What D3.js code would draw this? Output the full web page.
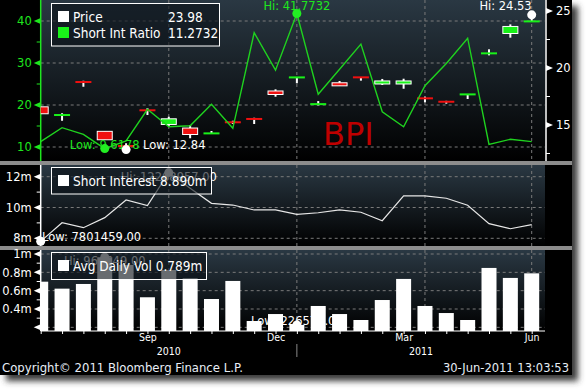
<!DOCTYPE html>
<html><head><meta charset="utf-8">
<script src="https://cdn.jsdelivr.net/npm/d3@7"></script>
<style>
body{margin:0;background:#fff}
svg{display:block}
text{font-family:"DejaVu Sans",sans-serif}
.cond{font-family:"DejaVu Sans Condensed","DejaVu Sans",sans-serif;font-stretch:condensed}
</style>
</head><body>
<svg id="c" width="587" height="391"></svg>
<script>
// ---------- data ----------
const dates = ["2010-07-15","2010-07-30","2010-08-13","2010-08-31","2010-09-15","2010-09-30",
  "2010-10-15","2010-10-29","2010-11-15","2010-11-30","2010-12-15","2010-12-31",
  "2011-01-14","2011-01-31","2011-02-15","2011-02-28","2011-03-15","2011-03-31",
  "2011-04-15","2011-04-29","2011-05-13","2011-05-31","2011-06-15","2011-06-30"];
const priceOpen  = [16.55,15.87,18.78,14.40,13.17,16.30,15.09,14.69,14.26,15.25,15.54,17.94,19.17,16.78,18.66,19.19,18.64,18.64,17.35,17.09,17.68,21.28,23.07,24.08];
const priceClose = [16.03,15.88,18.76,13.75,13.15,16.28,15.50,14.21,14.27,15.23,15.52,17.72,19.18,16.88,18.48,19.17,18.82,18.82,17.33,16.99,17.69,21.29,23.60,24.10];
const priceHigh  = [16.55,16.03,18.89,14.40,13.39,16.46,15.73,15.00,14.47,15.38,15.64,18.13,19.20,17.10,18.86,19.20,19.04,19.06,17.48,17.12,17.70,21.64,23.83,24.53];
const priceLow   = [16.03,15.38,18.36,13.75,12.84,15.88,14.91,13.83,14.25,15.09,15.09,17.48,18.66,16.72,18.45,18.89,18.51,18.18,16.99,16.87,17.28,21.11,22.66,24.05];
const shortIntRatio = [11.27,14.6,13.0,9.6178,11.43,18.98,14.83,15.07,20.17,14.45,37.2,28.3,41.7732,22.55,28.5,34.5,18.4,14.83,24.6,29.9,35.9,10.6,11.83,11.2732];
const shortInterestM = [7.801459,9.01,8.69,9.34,10.49,10.12,12.268957,11.25,10.27,10.16,9.84,9.84,9.56,9.66,9.84,9.69,9.14,10.75,10.75,10.6,10.15,8.95,8.62,8.89];
const avgDailyVolM = [0.698,0.622,0.673,0.964649,0.881,0.528,0.826,0.735,0.509,0.706,0.269,0.345,0.226571,0.433,0.345,0.28,0.498,0.728,0.433,0.356,0.28,0.848,0.739,0.789];

const ratioTicks = [10,20,30,40], ratioMinor = [15,25,35];
const priceTicks = [15,20,25], priceMinor = [12.5,17.5,22.5];
const siTicks = [8,10,12], siMinor = [9,11];
const volTicks = [0.4,0.6,0.8,1.0], volGrid = [0.2,0.4,0.6,0.8,1.0], volMinor = [0.3,0.5,0.7,0.9];
const gridDates = ["2010-10-15","2011-01-14","2011-04-15","2011-06-30"];
const monthTicks = [["2010-09-30","Sep"],["2010-12-31","Dec"],["2011-03-31","Mar"],["2011-06-30","Jun"]];
const yearLabels = ["2010","2011"];
const yearBoundary = "2011-01-14";

// ---------- layout ----------
const svg = d3.select("#c");
const L = 40.7, R = 545, FW = 572, FH = 375;
const P = {top:[0,161], mid:[165,246], bot:[250,331]};
const x = d3.scalePoint().domain(dates).range([40.7, 531.7]);
const yRatio = d3.scaleLinear().domain([10,40]).range([147,21]);
const yPrice = d3.scaleLinear().domain([15,25]).range([125,11]);
const ySI = d3.scaleLinear().domain([8,12]).range([238.3,176.7]);
const yVol = d3.scaleLinear().domain([0.4,1.0]).range([309,254]);

const defs = svg.append("defs");
const g1 = defs.append("linearGradient").attr("id","bg").attr("x1",0).attr("y1",0).attr("x2",0).attr("y2",1);
g1.append("stop").attr("offset","0%").attr("stop-color","#2a3843");
g1.append("stop").attr("offset","100%").attr("stop-color","#000000");
const f = defs.append("filter").attr("id","sh").attr("x","-10%").attr("y","-10%").attr("width","130%").attr("height","130%");
f.append("feGaussianBlur").attr("stdDeviation",3);
Object.entries(P).forEach(([k,[a,b]])=>{
  defs.append("clipPath").attr("id","clip-"+k).append("rect").attr("x",L).attr("y",a).attr("width",R-L).attr("height",b-a);
});

// frame + shadow
svg.append("rect").attr("x",6).attr("y",6).attr("width",FW).attr("height",FH).attr("fill","#3a3a3a").attr("filter","url(#sh)");
svg.append("rect").attr("x",0).attr("y",0).attr("width",FW).attr("height",FH).attr("fill","#000");
// separators
[161,246].forEach(yy=>svg.append("rect").attr("x",0).attr("y",yy).attr("width",FW).attr("height",4).attr("fill","#8c8c8c"));
// panel backgrounds
Object.values(P).forEach(([a,b])=>svg.append("rect").attr("x",L).attr("y",a).attr("width",R-L).attr("height",b-a).attr("fill","url(#bg)"));

// gridlines
function hgrid(vals, sc){
  svg.append("g").selectAll("line").data(vals).join("line")
    .attr("x1",L).attr("x2",R).attr("y1",d=>sc(d)).attr("y2",d=>sc(d))
    .attr("stroke","#7a7a7a").attr("stroke-width",1).attr("stroke-dasharray","3,3");
}
function vgrid(a,b){
  svg.append("g").selectAll("line").data(gridDates).join("line")
    .attr("x1",d=>x(d)).attr("x2",d=>x(d)).attr("y1",a).attr("y2",b)
    .attr("stroke","#7a7a7a").attr("stroke-width",1).attr("stroke-dasharray","3,3");
}
hgrid(ratioTicks, yRatio); vgrid(P.top[0],P.top[1]);
hgrid(siTicks, ySI); vgrid(P.mid[0],P.mid[1]);
hgrid(volGrid, yVol); vgrid(P.bot[0],P.bot[1]);

// ---------- axes ----------
function leftAxis(sc, ticks, minor, fmt, color, a, b, extraTri){
  svg.append("line").attr("x1",L).attr("x2",L).attr("y1",a).attr("y2",b).attr("stroke",color).attr("stroke-width",1.5);
  const ax = d3.axisLeft(sc).tickValues(ticks).tickSize(0).tickPadding(9).tickFormat(fmt);
  const g = svg.append("g").attr("transform",`translate(${L},0)`).call(ax);
  g.select(".domain").remove();
  g.selectAll("text").attr("fill",color).attr("font-size",11.5).attr("font-family","DejaVu Sans");
  svg.append("g").selectAll("path").data(ticks.concat(extraTri||[])).join("path")
    .attr("d",d=>`M${L-7},${sc(d)} L${L},${sc(d)-3} L${L},${sc(d)+3} Z`).attr("fill",color);
  svg.append("g").selectAll("line").data(minor).join("line")
    .attr("x1",L-4).attr("x2",L).attr("y1",d=>sc(d)).attr("y2",d=>sc(d)).attr("stroke",color).attr("stroke-width",1);
}
leftAxis(yRatio, ratioTicks, ratioMinor, d=>d, "#1ee61e", P.top[0], P.top[1]);
leftAxis(ySI, siTicks, siMinor, d=>d+"m", "#ffffff", P.mid[0], P.mid[1]);
leftAxis(yVol, volTicks, volMinor, d=>d===1?"1m":d+"m", "#ffffff", P.bot[0], P.bot[1], [0.2]);

// right axis (price)
svg.append("line").attr("x1",R+1).attr("x2",R+1).attr("y1",P.top[0]).attr("y2",P.top[1]).attr("stroke","#fff").attr("stroke-width",1.5);
{
  const ax = d3.axisRight(yPrice).tickValues(priceTicks).tickSize(0).tickPadding(10);
  const g = svg.append("g").attr("transform",`translate(${R+1},0)`).call(ax);
  g.select(".domain").remove();
  g.selectAll("text").attr("fill","#fff").attr("font-size",11.5).attr("font-family","DejaVu Sans");
  svg.append("g").selectAll("path").data(priceTicks).join("path")
    .attr("d",d=>`M${R+8},${yPrice(d)} L${R+1},${yPrice(d)-3} L${R+1},${yPrice(d)+3} Z`).attr("fill","#fff");
  svg.append("g").selectAll("line").data(priceMinor).join("line")
    .attr("x1",R+1).attr("x2",R+5).attr("y1",d=>yPrice(d)).attr("y2",d=>yPrice(d)).attr("stroke","#fff");
}

// bottom x axis
svg.append("line").attr("x1",L).attr("x2",R).attr("y1",P.bot[1]).attr("y2",P.bot[1]).attr("stroke","#fff").attr("stroke-width",1.2);
{
  const g = svg.append("g").attr("transform",`translate(0,${P.bot[1]})`)
    .call(d3.axisBottom(x).tickValues(dates).tickSize(3).tickFormat(""));
  g.select(".domain").remove();
  g.selectAll("line").attr("stroke","#fff");
  const mm = new Map(monthTicks);
  const g2 = svg.append("g").attr("transform",`translate(0,${P.bot[1]})`)
    .call(d3.axisBottom(x).tickValues(monthTicks.map(d=>d[0])).tickSize(0).tickPadding(3).tickFormat(d=>mm.get(d)));
  g2.select(".domain").remove();
  g2.selectAll("text").attr("fill","#fff").attr("font-size",10.5).attr("class","cond");
  const xb = x(yearBoundary);
  const yx = [(L+xb)/2, (xb+R)/2];
  svg.append("g").selectAll("text").data(yearLabels).join("text")
    .attr("class","cond").attr("x",(d,i)=>yx[i]).attr("y",355).attr("text-anchor","middle")
    .attr("fill","#fff").attr("font-size",10.5).text(d=>d);
  svg.append("line").attr("x1",xb).attr("x2",xb).attr("y1",344).attr("y2",357).attr("stroke","#888");
}

// ---------- top panel: candles + ratio line ----------
const gt = svg.append("g").attr("clip-path","url(#clip-top)");
const idx = d3.range(dates.length);
const up = i => priceClose[i] >= priceOpen[i];
gt.append("g").selectAll("line").data(idx).join("line")
  .attr("x1",i=>x(dates[i])).attr("x2",i=>x(dates[i]))
  .attr("y1",i=>yPrice(priceHigh[i])).attr("y2",i=>yPrice(priceLow[i]))
  .attr("stroke","#fff").attr("stroke-width",2);
idx.forEach(i=>{
  const cx = x(dates[i]);
  const y1 = yPrice(Math.max(priceOpen[i],priceClose[i])), y2 = yPrice(Math.min(priceOpen[i],priceClose[i]));
  const col = up(i) ? "#19f219" : "#f01010";
  if (y2 - y1 < 1.5) {
    gt.append("rect").attr("x",cx-8).attr("y",(y1+y2)/2-1).attr("width",16).attr("height",2).attr("fill",col);
  } else {
    gt.append("rect").attr("x",cx-7.5).attr("y",y1-0.5).attr("width",15).attr("height",y2-y1+1)
      .attr("fill",col).attr("stroke","#fff").attr("stroke-width",1);
  }
});
gt.append("path").datum(idx)
  .attr("d", d3.line().x(i=>x(dates[i])).y(i=>yRatio(shortIntRatio[i])))
  .attr("fill","none").attr("stroke","#1fd21f").attr("stroke-width",1.4);

// BPI
svg.append("text").attr("x",323).attr("y",145).attr("font-size",32).attr("font-family","Liberation Sans")
  .attr("fill","#bf0000").text("BPI");

// hi/low annotations top
const iHiR = shortIntRatio.indexOf(d3.max(shortIntRatio)), iLoR = shortIntRatio.indexOf(d3.min(shortIntRatio));
const iHiP = priceHigh.indexOf(d3.max(priceHigh)), iLoP = priceLow.indexOf(d3.min(priceLow));
svg.append("text").attr("x",x(dates[iHiR])).attr("y",10).attr("text-anchor","middle").attr("font-size",11.5)
  .attr("fill","#1ee61e").text("Hi: "+shortIntRatio[iHiR]);
svg.append("text").attr("x",x(dates[iLoR])).attr("y",149).attr("text-anchor","middle").attr("font-size",11.5)
  .attr("fill","#1ee61e").text("Low: "+shortIntRatio[iLoR]);
svg.append("text").attr("x",143).attr("y",149).attr("font-size",11.5).attr("fill","#fff").text("Low: "+priceLow[iLoP]);
svg.append("text").attr("x",x(dates[iHiP])).attr("y",10).attr("text-anchor","end").attr("font-size",11.5)
  .attr("fill","#fff").text("Hi: "+priceHigh[iHiP]);
svg.append("circle").attr("cx",x(dates[iHiR])).attr("cy",yRatio(shortIntRatio[iHiR])).attr("r",4.5).attr("fill","#22ee22");
svg.append("circle").attr("cx",x(dates[iLoR])).attr("cy",yRatio(shortIntRatio[iLoR])).attr("r",4.5).attr("fill","#22ee22");
svg.append("circle").attr("cx",x(dates[iLoP])).attr("cy",yPrice(priceLow[iLoP])).attr("r",4.5).attr("fill","#fff");
svg.append("circle").attr("cx",x(dates[iHiP])).attr("cy",yPrice(priceHigh[iHiP])-1.5).attr("r",4.5).attr("fill","#fff");

// ---------- middle panel ----------
const gm = svg.append("g").attr("clip-path","url(#clip-mid)");
gm.append("path").datum(idx)
  .attr("d", d3.line().x(i=>x(dates[i])).y(i=>ySI(shortInterestM[i])))
  .attr("fill","none").attr("stroke","#e6e6e6").attr("stroke-width",1.2);
const iHiS = shortInterestM.indexOf(d3.max(shortInterestM)), iLoS = shortInterestM.indexOf(d3.min(shortInterestM));
const fmtFull = v => d3.format(".2f")(Math.round(v*1e6));
svg.append("text").attr("x",x(dates[iHiS])).attr("y",181).attr("text-anchor","middle").attr("font-size",11.5)
  .attr("fill","#fff").text("Hi: "+fmtFull(shortInterestM[iHiS]));
svg.append("circle").attr("cx",x(dates[iHiS])).attr("cy",ySI(shortInterestM[iHiS])).attr("r",4.5).attr("fill","#fff");
svg.append("text").attr("x",42).attr("y",241).attr("font-size",11.5).attr("fill","#fff").text("Low: "+fmtFull(shortInterestM[iLoS]));
svg.append("circle").attr("cx",x(dates[iLoS])).attr("cy",ySI(shortInterestM[iLoS])).attr("r",4.5).attr("fill","#fff");

// ---------- bottom panel ----------
const iHiV = avgDailyVolM.indexOf(d3.max(avgDailyVolM)), iLoV = avgDailyVolM.indexOf(d3.min(avgDailyVolM));
svg.append("text").attr("x",x(dates[iHiV])).attr("y",265).attr("text-anchor","middle").attr("font-size",11.5)
  .attr("fill","#fff").text("Hi: "+fmtFull(avgDailyVolM[iHiV]));
svg.append("text").attr("x",x(dates[iLoV])).attr("y",325).attr("text-anchor","middle").attr("font-size",11.5)
  .attr("fill","#fff").text("Low: "+fmtFull(avgDailyVolM[iLoV]));
const gb = svg.append("g").attr("clip-path","url(#clip-bot)");
gb.selectAll("rect").data(idx).join("rect")
  .attr("x",i=>x(dates[i])-7.5).attr("width",15)
  .attr("y",i=>yVol(avgDailyVolM[i])).attr("height",i=>P.bot[1]-yVol(avgDailyVolM[i]))
  .attr("fill","#fff");
svg.append("circle").attr("cx",x(dates[iHiV])).attr("cy",yVol(avgDailyVolM[iHiV])).attr("r",4.5).attr("fill","#fff");
svg.append("circle").attr("cx",x(dates[iLoV])).attr("cy",yVol(avgDailyVolM[iLoV])).attr("r",4.5).attr("fill","#fff");

// ---------- legends ----------
function legend(x0,y0,w,h,items){
  svg.append("rect").attr("x",x0+0.5).attr("y",y0+0.5).attr("width",w).attr("height",h)
    .attr("fill","rgba(12,18,24,0.62)").attr("stroke","#fff").attr("stroke-width",1);
  items.forEach((it,k)=>{
    const by = y0 + 8 + k*16;
    svg.append("rect").attr("x",x0+7).attr("y",by).attr("width",11).attr("height",11).attr("fill",it.c);
    svg.append("text").attr("class","cond").attr("x",x0+22).attr("y",by+11).attr("font-size",13.5).attr("fill","#fff").text(it.t);
    if (it.v) svg.append("text").attr("class","cond").attr("x",x0+117).attr("y",by+11).attr("font-size",13.5).attr("fill","#fff").text(it.v);
  });
}
legend(51,3,168,42.5,[{c:"#fff",t:"Price",v:"23.98"},{c:"#19f219",t:"Short Int Ratio",v:d3.format(".4f")(shortIntRatio[shortIntRatio.length-1])}]);
legend(51,167,160,26.5,[{c:"#fff",t:"Short Interest "+d3.format(".3f")(shortInterestM[shortInterestM.length-1])+"m"}]);
legend(51,252,155,27,[{c:"#fff",t:"Avg Daily Vol "+d3.format(".3f")(avgDailyVolM[avgDailyVolM.length-1])+"m"}]);

// footer
svg.append("text").attr("x",2).attr("y",372).attr("font-size",11.7).attr("fill","#e8eef6").text("Copyright\u00A9 2011 Bloomberg Finance L.P.");
svg.append("text").attr("x",569).attr("y",372).attr("text-anchor","end").attr("font-size",11.5).attr("fill","#e8eef6").text("30-Jun-2011 13:03:53");
</script>
</body></html>
